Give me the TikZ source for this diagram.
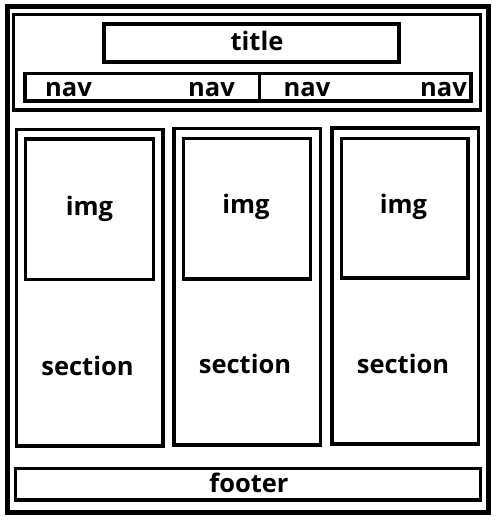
\documentclass[tikz,border=0pt]{standalone}
\usepackage{fontspec}
\setmainfont{Open Sans}
\begin{document}
\begin{tikzpicture}[x=1bp,y=-1bp,
  box/.style={draw=black,line width=3.5bp,rectangle,inner sep=0pt,outer sep=0pt},
  outerbox/.style={draw=black,line width=5bp,rectangle,inner sep=0pt,outer sep=0pt},
  lbl/.style={inner sep=0pt,anchor=base,font=\fontsize{25.5bp}{30bp}\selectfont\bfseries}]
\useasboundingbox[fill=white] (0,0) rectangle (497,523);
% boxes
\node[outerbox,minimum width=480.5bp,minimum height=505.5bp] (outer) at (247.75,259.25) {};
\node[box,minimum width=467bp,minimum height=95.5bp] (header) at (247,62.25) {};
\node[box,minimum width=295bp,minimum height=38bp] (title) at (251.5,43) {};
\node[box,minimum width=446bp,minimum height=27.5bp] (nav) at (248,87.25) {};
\coordinate (navdiv) at (259.5,87.25);
\draw[line width=3.5bp] (nav.north -| navdiv) -- (nav.south -| navdiv);
\node[box,minimum width=146.5bp,minimum height=316.5bp] (col1) at (89.75,287.75) {};
\node[box,minimum width=146.5bp,minimum height=316.5bp] (col2) at (247.25,286.75) {};
\node[box,minimum width=146.5bp,minimum height=316bp] (col3) at (405.25,286) {};
\node[box,minimum width=128bp,minimum height=140.5bp] (img1) at (89.5,209.25) {};
\node[box,minimum width=127bp,minimum height=140.5bp] (img2) at (247,208.75) {};
\node[box,minimum width=126.5bp,minimum height=139.5bp] (img3) at (404.75,208.25) {};
\node[box,minimum width=465bp,minimum height=31.5bp] (footer) at (248,484.25) {};
% labels
\node[lbl] (ttitle) at (257,51) {title};
\node[lbl] (tnav1) at (68.5,97) {nav};
\node[lbl] (tnav2) at (211.5,97) {nav};
\node[lbl] (tnav3) at (307,97) {nav};
\node[lbl] (tnav4) at (443.5,97) {nav};
\node[lbl] (timg1) at (89.5,215) {img};
\node[lbl] (timg2) at (246,213) {img};
\node[lbl] (timg3) at (403.5,213) {img};
\node[lbl] (tsec1) at (87.5,375) {section};
\node[lbl] (tsec2) at (245,373) {section};
\node[lbl] (tsec3) at (403,373) {section};
\node[lbl] (tfooter) at (249,492) {footer};
\end{tikzpicture}
\end{document}
